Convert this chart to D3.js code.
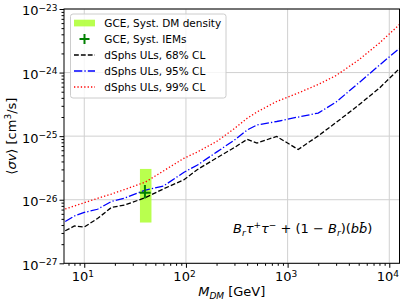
<!DOCTYPE html>
<html>
<head>
<meta charset="utf-8">
<script src="https://cdn.jsdelivr.net/npm/d3@7"></script>
<style>
  body { margin: 0; background: #fff; }
  text { font-family: "DejaVu Sans", sans-serif; fill: #000; }
</style>
</head>
<body>
<svg id="chart" width="407" height="305"></svg>
<script>
// dark matter mass [GeV]
var masses = [6.5, 8, 10, 13.5, 18.5, 25, 40, 60, 95, 130, 200, 300, 400, 500, 780, 1270, 2000, 3000, 5000, 8000, 12600];
// dSphs upper limits on <sigma v> [cm^3/s]
var ul68 = [3.25e-27, 3.86e-27, 3.72e-27, 5.07e-27, 7.55e-27, 8.26e-27, 1.08e-26, 1.48e-26, 2.05e-26, 2.99e-26, 4.53e-26, 6.63e-26, 8.93e-26, 7.8e-26, 9.89e-26, 6.17e-26, 1.01e-25, 1.64e-25, 3.09e-25, 5.71e-25, 1.16e-24];
var ul95 = [4.55e-27, 5.55e-27, 6.3e-27, 7.08e-27, 9.38e-27, 1.06e-26, 1.42e-26, 1.64e-26, 2.68e-26, 3.52e-26, 5.6e-26, 8.7e-26, 1.25e-25, 1.5e-25, 1.7e-25, 2.0e-25, 2.31e-25, 3.44e-25, 6.86e-25, 1.31e-24, 2.41e-24];
var ul99 = [7.15e-27, 7.98e-27, 8.97e-27, 1.05e-26, 1.23e-26, 1.45e-26, 1.9e-26, 2.83e-26, 4.46e-26, 5.64e-26, 8.24e-26, 1.32e-25, 1.91e-25, 2.4e-25, 3.51e-25, 4.77e-25, 6.5e-25, 9.0e-25, 1.58e-24, 2.92e-24, 5.7e-24];
// GCE best fit
var gceBand = { m: [35.3, 45.8], sv: [4.38e-27, 3.05e-26] };   // syst. DM density
var gcePoint = { m: 39.5, sv: 1.29e-26, mErr: [35, 45], svErr: [1.05e-26, 1.7e-26] }; // syst. IEMs

var legendLabels = ["GCE, Syst. DM density", "GCE, Syst. IEMs", "dSphs ULs, 68% CL", "dSphs ULs, 95% CL", "dSphs ULs, 99% CL"];
var xMajor = [10, 100, 1000, 10000];
var yMajor = [1e-27, 1e-26, 1e-25, 1e-24, 1e-23];

var box = { left: 64, right: 399.5, top: 9, bottom: 263.3 };

var svg = d3.select('#chart');

var x = d3.scaleLog().domain([6.32, 12600]).range([box.left, box.right]);
var y = d3.scaleLog().domain([1e-27, 1e-23]).range([box.bottom, box.top]);

function minors(lo, hi) {
  var out = [];
  for (var e = lo; e <= hi; e++) {
    for (var k = 2; k <= 9; k++) out.push(k * Math.pow(10, e));
  }
  return out;
}
var xMinor = minors(0, 4).filter(function (v) { return v >= 6.32 && v <= 12600; });
var yMinor = minors(-27, -24);

// grid -------------------- //
var grid = svg.append('g');
grid.selectAll('line.gx').data(xMajor).enter().append('line')
  .attr('x1', x).attr('x2', x).attr('y1', box.top).attr('y2', box.bottom)
  .attr('stroke', '#d0d0d0').attr('stroke-width', 1);
grid.selectAll('line.gy').data(yMajor).enter().append('line')
  .attr('y1', y).attr('y2', y).attr('x1', box.left).attr('x2', box.right)
  .attr('stroke', '#d0d0d0').attr('stroke-width', 1);

// curves -------------------- //
var line = d3.line()
  .x(function (d) { return x(d[0]); })
  .y(function (d) { return y(d[1]); });

var series = [
  { vals: ul68, color: '#000', dash: '4.8,2.1' },
  { vals: ul95, color: '#0000ff', dash: '8.3,2.1,1.3,2.1' },
  { vals: ul99, color: '#ff0000', dash: '1.3,2.1' }
];

svg.append('clipPath').attr('id', 'clip').append('rect')
  .attr('x', box.left).attr('y', box.top)
  .attr('width', box.right - box.left).attr('height', box.bottom - box.top);

var plot = svg.append('g').attr('clip-path', 'url(#clip)');

plot.append('rect')
  .attr('x', x(gceBand.m[0])).attr('width', x(gceBand.m[1]) - x(gceBand.m[0]))
  .attr('y', y(gceBand.sv[1])).attr('height', y(gceBand.sv[0]) - y(gceBand.sv[1]))
  .attr('fill', '#adff2f').attr('fill-opacity', 0.85);

plot.selectAll('path.ul').data(series).enter().append('path')
  .attr('d', function (s) { return line(masses.map(function (m, i) { return [m, s.vals[i]]; })); })
  .attr('fill', 'none')
  .attr('stroke', function (s) { return s.color; })
  .attr('stroke-width', 1.3)
  .attr('stroke-dasharray', function (s) { return s.dash; });

// GCE point with error bars
plot.append('line')
  .attr('x1', x(gcePoint.mErr[0])).attr('x2', x(gcePoint.mErr[1]))
  .attr('y1', y(gcePoint.sv)).attr('y2', y(gcePoint.sv))
  .attr('stroke', '#008000').attr('stroke-width', 2);
plot.append('line')
  .attr('x1', x(gcePoint.m)).attr('x2', x(gcePoint.m))
  .attr('y1', y(gcePoint.svErr[0])).attr('y2', y(gcePoint.svErr[1]))
  .attr('stroke', '#008000').attr('stroke-width', 2);

// axes -------------------- //
var axB = svg.append('g').attr('transform', 'translate(0,' + box.bottom + ')');
axB.call(d3.axisBottom(x).tickValues(xMinor).tickSize(2.5).tickFormat(''));
var axBM = svg.append('g').attr('transform', 'translate(0,' + box.bottom + ')');
axBM.call(d3.axisBottom(x).tickValues(xMajor).tickSize(4.5).tickPadding(4));
axBM.selectAll('.tick text').each(function (d) {
  var t = d3.select(this).text('10').attr('font-size', 13).attr('font-family', 'DejaVu Sans').attr('dx', '-0.15em');
  t.append('tspan').attr('dy', '-0.45em').attr('font-size', 9).text(Math.round(Math.log10(d)));
});

var axL = svg.append('g').attr('transform', 'translate(' + box.left + ',0)');
axL.call(d3.axisLeft(y).tickValues(yMinor).tickSize(2.5).tickFormat(''));
var axLM = svg.append('g').attr('transform', 'translate(' + box.left + ',0)');
axLM.call(d3.axisLeft(y).tickValues(yMajor).tickSize(4.5).tickPadding(2));
axLM.selectAll('.tick text').each(function (d) {
  var t = d3.select(this).text('10').attr('font-size', 13).attr('font-family', 'DejaVu Sans').attr('dy', '0.45em');
  t.append('tspan').attr('dy', '-0.5em').attr('font-size', 9).text('\u2212' + Math.round(-Math.log10(d)));
});

svg.selectAll('.domain').remove();
svg.selectAll('.tick line').attr('stroke', '#000');

// frame
svg.append('rect')
  .attr('x', box.left).attr('y', box.top)
  .attr('width', box.right - box.left).attr('height', box.bottom - box.top)
  .attr('fill', 'none').attr('stroke', '#000').attr('stroke-width', 1);

// axis labels
var xl = svg.append('text').attr('x', (box.left + box.right) / 2).attr('y', 296)
  .attr('text-anchor', 'middle').attr('font-size', 13);
xl.append('tspan').attr('font-style', 'italic').text('M');
xl.append('tspan').attr('font-style', 'italic').attr('font-size', 9).attr('dy', 2.5).text('DM');
xl.append('tspan').attr('dy', -2.5).text(' [GeV]');

var yl = svg.append('text').attr('transform', 'translate(16,' + ((box.top + box.bottom) / 2) + ') rotate(-90)')
  .attr('text-anchor', 'middle').attr('font-size', 13);
yl.append('tspan').text('\u27e8');
yl.append('tspan').attr('font-style', 'italic').text('\u03c3v');
yl.append('tspan').text('\u27e9 [cm');
yl.append('tspan').attr('font-size', 9).attr('dy', -5).text('3');
yl.append('tspan').attr('dy', 5).text('/s]');

// annotation
var ann = svg.append('text').attr('x', 233).attr('y', 233).attr('font-size', 13);
ann.append('tspan').attr('font-style', 'italic').text('B');
ann.append('tspan').attr('font-style', 'italic').attr('font-size', 9).attr('dy', 2.5).text('r');
ann.append('tspan').attr('font-style', 'italic').attr('dy', -2.5).text('\u03c4');
ann.append('tspan').attr('font-size', 9).attr('dy', -5).text('+');
ann.append('tspan').attr('font-style', 'italic').attr('dy', 5).text('\u03c4');
ann.append('tspan').attr('font-size', 9).attr('dy', -5).text('\u2212');
ann.append('tspan').attr('dy', 5).text(' + (1 \u2212 ');
ann.append('tspan').attr('font-style', 'italic').text('B');
ann.append('tspan').attr('font-style', 'italic').attr('font-size', 9).attr('dy', 2.5).text('r');
ann.append('tspan').attr('dy', -2.5).text(')(');
ann.append('tspan').attr('font-style', 'italic').text('bb\u0304');
ann.append('tspan').text(')');

// legend -------------------- //
var lg = svg.append('g');
lg.append('rect').attr('x', 70.5).attr('y', 14).attr('width', 155.5).attr('height', 84)
  .attr('rx', 2.5).attr('fill', '#fff').attr('fill-opacity', 0.8)
  .attr('stroke', '#cccccc').attr('stroke-width', 1);
var rowY = function (i) { return 23 + i * 16; };
lg.append('rect').attr('x', 74).attr('y', rowY(0) - 3.3).attr('width', 21).attr('height', 6.7)
  .attr('fill', '#adff2f').attr('fill-opacity', 0.85);
lg.append('line').attr('x1', 79.5).attr('x2', 89.5).attr('y1', rowY(1)).attr('y2', rowY(1))
  .attr('stroke', '#008000').attr('stroke-width', 2);
lg.append('line').attr('x1', 84.5).attr('x2', 84.5).attr('y1', rowY(1) - 5).attr('y2', rowY(1) + 5)
  .attr('stroke', '#008000').attr('stroke-width', 2);
series.forEach(function (s, i) {
  lg.append('line').attr('x1', 74).attr('x2', 95).attr('y1', rowY(i + 2)).attr('y2', rowY(i + 2))
    .attr('stroke', s.color).attr('stroke-width', 1.3).attr('stroke-dasharray', s.dash);
});
lg.selectAll('text.lab').data(legendLabels).enter().append('text')
  .attr('x', 104.3).attr('y', function (d, i) { return rowY(i); })
  .attr('dy', '0.36em').attr('font-size', 10.5)
  .text(function (d) { return d; });
</script>
</body>
</html>
